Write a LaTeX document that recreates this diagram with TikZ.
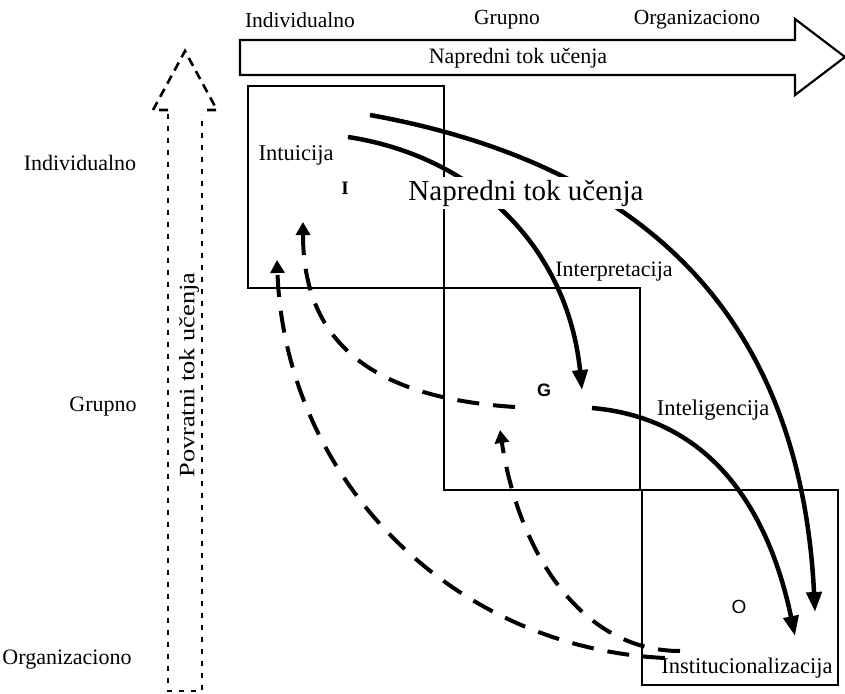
\documentclass[tikz,border=0pt]{standalone}
\usepackage{fontspec}
\setmainfont{Liberation Serif}
\setsansfont{Liberation Sans}
\usepackage{graphicx}
\usepackage{xcolor}
\usepackage{tikz}
\usetikzlibrary{arrows.meta,positioning}
\tikzset{
  level-box/.style={draw=black,line width=1.8pt,minimum width=196pt,
    minimum height=202pt,anchor=north west,inner sep=0pt},
  axis-text/.style={font=\fontsize{21.5}{23}\selectfont,inner sep=1pt},
  side-text/.style={font=\fontsize{22}{24}\selectfont,inner sep=1pt},
  stage-text/.style={font=\fontsize{22.5}{24}\selectfont,inner sep=1pt},
  mark-text/.style={font=\sffamily\bfseries\fontsize{18}{20}\selectfont,inner sep=0pt},
  flow-outline/.style={draw=black,line width=2.2pt,line join=miter},
  back-outline/.style={draw=black,line width=2.6pt},
  arrow-fwd/.style={-{Triangle[length=20pt,width=15pt]},line width=4.5pt},
  arrow-back/.style={-{Triangle[length=13pt,width=14pt]},line width=4pt,
    dash pattern=on 22pt off 14pt},
}

\begin{document}
\begin{tikzpicture}[x=1pt,y=-1pt]
  \useasboundingbox (0,0) rectangle (845,693);
  % forward flow arrow (top)
  \draw[flow-outline] (240,40) -- (795,40) -- (795,19) -- (845,57)
    -- (795,95) -- (795,75) -- (240,75) -- cycle;
  \node[side-text] (fwd-txt) at (518,58) {Napredni tok učenja};
  \node[axis-text] (top-i) at (300,20) {Individualno};
  \node[axis-text] (top-g) at (507,20) {Grupno};
  \node[axis-text] (top-o) at (697,20) {Organizaciono};

  % feedback flow arrow (left)
  \draw[back-outline,dash pattern=on 9pt off 6pt] (168,110) -- (153,110)
    -- (185,51) -- (217,110) -- (202,110);
  \draw[back-outline,dash pattern=on 5pt off 7pt] (168,114) -- (168,691)
    -- (202,691) -- (202,114);
  \node[side-text,rotate=90] (back-txt) at (189,375)
    {\scalebox{1.2}[1]{Povratni tok učenja}};
  \node[side-text] (left-i) at (80,163) {Individualno};
  \node[side-text] (left-g) at (103,407) {Grupno};
  \node[side-text] (left-o) at (67,660) {Organizaciono};

  % level boxes
  \node[level-box] (box-i) at (247,85) {};
  \node[level-box] (box-g) at (443,287) {};
  \node[level-box,minimum height=195pt] (box-o) at (641,489) {};

  \node[stage-text] (intuit) at (296,155) {Intuicija};
  \node[stage-text,font=\fontsize{22}{24}\selectfont] (interp) at (614,272) {Interpretacija};
  \node[stage-text] (integr) at (713,410) {Inteligencija};
  \node[stage-text] (instit) at (747,668) {Institucionalizacija};
  \node[font=\bfseries\fontsize{19}{21}\selectfont,inner sep=0pt] (mark-i) at (345,188) {I};
  \node[mark-text] (mark-g) at (544,390) {G};
  \node[mark-text,font=\sffamily\fontsize{19}{21}\selectfont] (mark-o) at (739,607) {O};

  % forward curves
  \coordinate (fi-in) at (348,137);  \coordinate (fi-out) at (582,390);
  \coordinate (fo-in) at (370,115);  \coordinate (fo-out) at (815,612);
  \coordinate (fg-in) at (592,408);  \coordinate (fg-out) at (795,636);
  \draw[arrow-fwd] (fi-in) .. controls (478,157) and (568,250) .. (fi-out);
  \draw[arrow-fwd] (fo-in) .. controls (640,164) and (800,312) .. (fo-out);
  \draw[arrow-fwd] (fg-in) .. controls (730,420) and (775,540) .. (fg-out);

  % feedback curves
  \coordinate (bg-in) at (515,407);  \coordinate (bg-out) at (303,222);
  \coordinate (bo-in) at (680,651);  \coordinate (bo-out) at (500,430);
  \coordinate (bl-in) at (665,658);  \coordinate (bl-out) at (277,260);
  \draw[arrow-back] (bg-in) .. controls (375,398) and (303,345) .. (bg-out);
  \draw[arrow-back] (bo-in) .. controls (580,651) and (518,550) .. (bo-out);
  \draw[arrow-back] (bl-in) .. controls (452,648) and (285,479) .. (bl-out);

  \node[fill=white,inner xsep=10pt,inner ysep=3pt,
    font=\fontsize{29}{31}\selectfont] (fwd-big) at (526,193) {Napredni tok učenja};
\end{tikzpicture}
\end{document}
